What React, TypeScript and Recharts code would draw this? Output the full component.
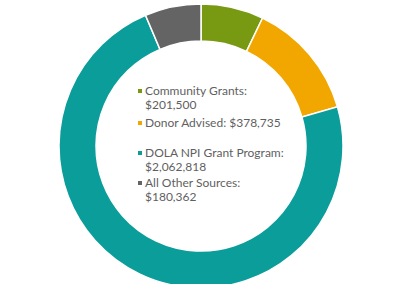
import React from "react";
import { Cell, Legend, Pie, PieChart } from "recharts";

const sources = ["Community Grants", "Donor Advised", "DOLA NPI Grant Program", "All Other Sources"];
const amounts = [201500, 378735, 2062818, 180362];
const colors = ["#789a12", "#f2a700", "#0a9d9a", "#646464"];
// whether the amount sits on its own line under the name
const wrapAmount = [true, false, true, true];

const data = sources.map((name, i) => ({ name, value: amounts[i] }));

const fmt = (v: number) => "$" + v.toLocaleString("en-US");

const entryTops = [84, 116, 146, 176];

const LegendBox = () => (
  <div style={{ position: "relative", width: 400, height: 284 }}>
    {sources.map((name, i) => (
      <div
        key={name}
        style={{
          position: "absolute",
          left: 145,
          top: entryTops[i],
          fontFamily: "Lato, sans-serif",
          fontSize: 12,
          lineHeight: "14px",
          color: "#5f5f5f",
          whiteSpace: "nowrap",
          textAlign: "left",
        }}
      >
        <span
          style={{
            position: "absolute",
            left: -7,
            top: 5,
            width: 4,
            height: 4,
            background: colors[i],
          }}
        />
        {name}:{wrapAmount[i] ? <br /> : " "}
        {fmt(amounts[i])}
      </div>
    ))}
  </div>
);

const App = () => {
  return (
    <div style={{ position: "absolute", left: 0, top: 0, width: 400, height: 284, background: "#fff" }}>
      <PieChart width={400} height={284} margin={{ top: 0, right: 0, bottom: 0, left: 0 }}>
        <Pie
          data={data}
          dataKey="value"
          nameKey="name"
          cx={201}
          cy={146}
          innerRadius={105}
          outerRadius={142}
          startAngle={90}
          endAngle={-270}
          stroke="#ffffff"
          strokeWidth={1.5}
          isAnimationActive={false}
        >
          {data.map((d, i) => (
            <Cell key={d.name} fill={colors[i]} />
          ))}
        </Pie>
        <Legend
          content={() => <LegendBox />}
          wrapperStyle={{ position: "absolute", left: 0, top: 0, width: 400, height: 284 }}
        />
      </PieChart>
    </div>
  );
};

export default App;
